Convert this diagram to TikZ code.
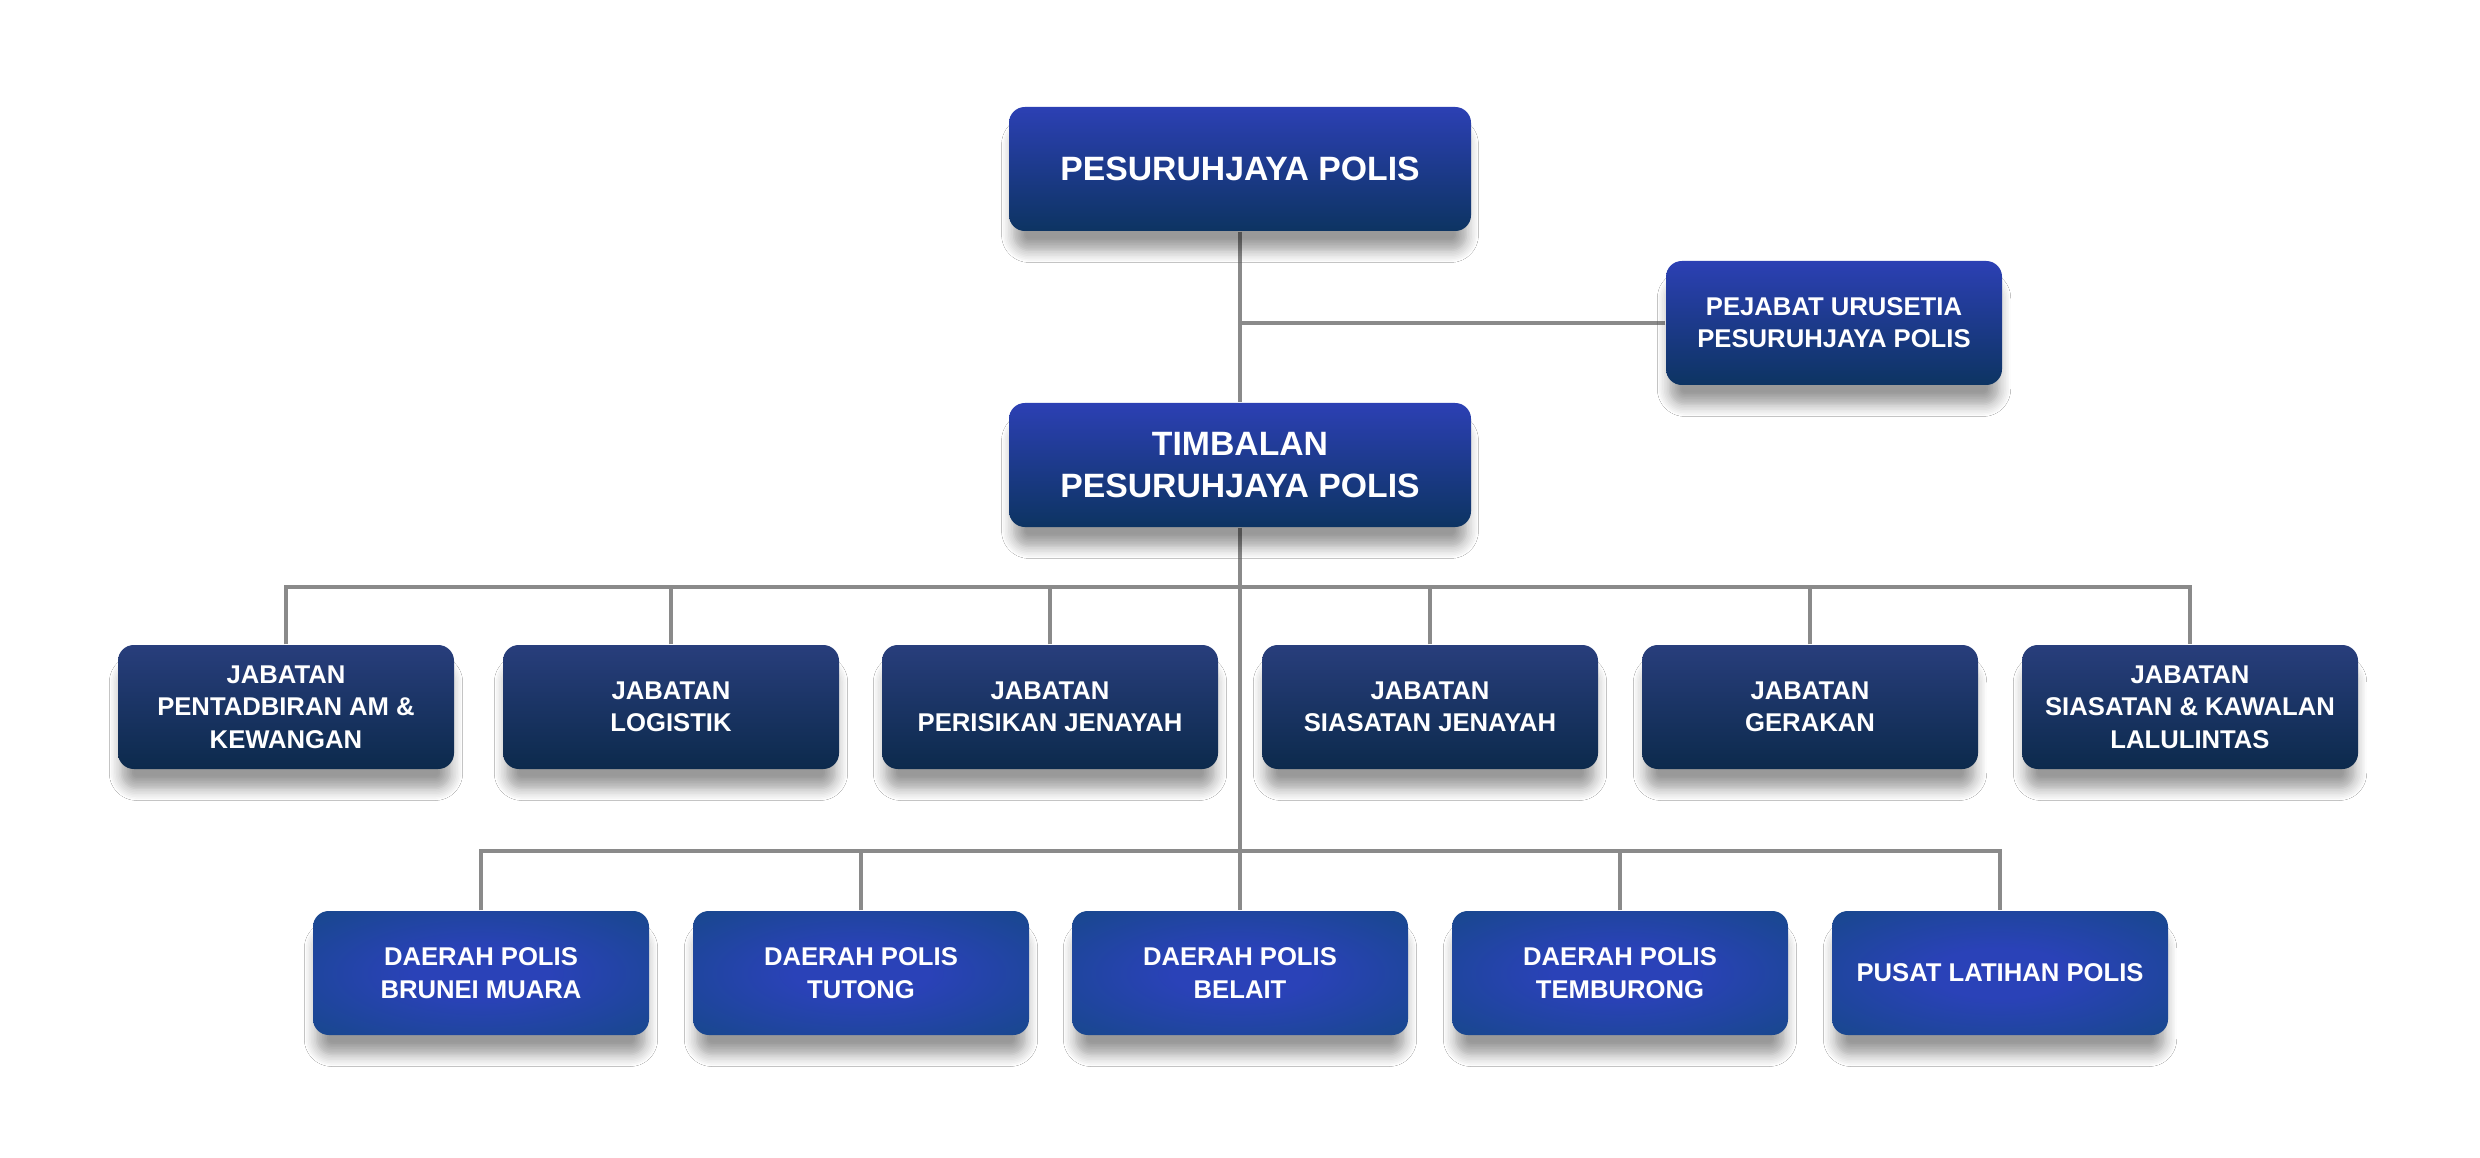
\documentclass[tikz,border=0pt]{standalone}
\usepackage{fontspec}
\setmainfont{Liberation Sans}
\usetikzlibrary{shadows.blur,backgrounds}

\definecolor{chiefTop}{RGB}{44,64,180}
\definecolor{chiefBot}{RGB}{13,52,98}
\definecolor{deptTop}{RGB}{40,62,124}
\definecolor{deptBot}{RGB}{12,42,76}
\definecolor{distIn}{RGB}{42,66,184}
\definecolor{distOut}{RGB}{16,74,122}
\definecolor{lineGray}{RGB}{138,138,138}

\pgfdeclareradialshading{distShade}{\pgfpoint{0bp}{0bp}}{%
  color(0bp)=(distIn); color(10bp)=(distIn); color(47bp)=(distOut); color(50bp)=(distOut)}

\tikzset{
  box/.style={rounded corners=4.5pt, align=center, text=white, inner sep=0pt,
    minimum height=1.24cm,
    blur shadow={shadow xshift=0pt, shadow yshift=-6pt, shadow scale=0.98,
      shadow blur radius=3.5pt, shadow blur steps=8, shadow opacity=40}},
  chief/.style={box, minimum width=4.62cm, top color=chiefTop, bottom color=chiefBot,
    font=\fontsize{9.6}{12.1}\selectfont\bfseries},
  office/.style={box, minimum width=3.36cm, top color=chiefTop, bottom color=chiefBot,
    font=\fontsize{7.3}{9.1}\selectfont\bfseries},
  dept/.style={box, minimum width=3.36cm, top color=deptTop, bottom color=deptBot,
    font=\fontsize{7.3}{9.2}\selectfont\bfseries},
  district/.style={box, minimum width=3.36cm, shading=distShade,
    font=\fontsize{7.3}{9.2}\selectfont\bfseries},
  wire/.style={draw=lineGray, line width=1.2pt}
}

\begin{document}
\begin{tikzpicture}
  \useasboundingbox (0,0) rectangle (24.8,-11.58);

  % Top of the chart
  \node[chief] (chief) at (12.40,-1.69) {PESURUHJAYA POLIS};
  \node[office] (urusetia) at (18.34,-3.23) {PEJABAT URUSETIA\\PESURUHJAYA POLIS};
  \node[chief] (timbalan) at (12.40,-4.65) {TIMBALAN\\PESURUHJAYA POLIS};

  % Departments
  \node[dept] (jab1) at (2.86,-7.07) {JABATAN\\PENTADBIRAN AM \&\\KEWANGAN};
  \node[dept] (jab2) at (6.71,-7.07) {JABATAN\\LOGISTIK};
  \node[dept] (jab3) at (10.50,-7.07) {JABATAN\\PERISIKAN JENAYAH};
  \node[dept] (jab4) at (14.30,-7.07) {JABATAN\\SIASATAN JENAYAH};
  \node[dept] (jab5) at (18.10,-7.07) {JABATAN\\GERAKAN};
  \node[dept] (jab6) at (21.90,-7.07) {JABATAN\\SIASATAN \& KAWALAN\\LALULINTAS};

  % Districts
  \node[district] (dae1) at (4.81,-9.73) {DAERAH POLIS\\BRUNEI MUARA};
  \node[district] (dae2) at (8.61,-9.73) {DAERAH POLIS\\TUTONG};
  \node[district] (dae3) at (12.40,-9.73) {DAERAH POLIS\\BELAIT};
  \node[district] (dae4) at (16.20,-9.73) {DAERAH POLIS\\TEMBURONG};
  \node[district] (dae5) at (20.00,-9.73) {PUSAT LATIHAN POLIS};

  \coordinate (bus1) at (12.40,-5.87);
  \coordinate (bus2) at (12.40,-8.51);

  \begin{pgfonlayer}{background} % Page and connectors
    \fill[white] (0,0) rectangle (24.8,-11.58);
    \draw[wire] (chief.south) -- (timbalan.north);
    \draw[wire] (urusetia.west) -- (urusetia.west -| chief.south);
    \draw[wire] (timbalan.south) -- (dae3.north);
    \draw[wire] (jab1.north) |- (bus1) -| (jab6.north);
    \draw[wire] (jab2.north) -- (jab2.north |- bus1);
    \draw[wire] (jab3.north) -- (jab3.north |- bus1);
    \draw[wire] (jab4.north) -- (jab4.north |- bus1);
    \draw[wire] (jab5.north) -- (jab5.north |- bus1);
    \draw[wire] (dae1.north) |- (bus2) -| (dae5.north);
    \draw[wire] (dae2.north) -- (dae2.north |- bus2);
    \draw[wire] (dae4.north) -- (dae4.north |- bus2);
  \end{pgfonlayer}
\end{tikzpicture}
\end{document}
